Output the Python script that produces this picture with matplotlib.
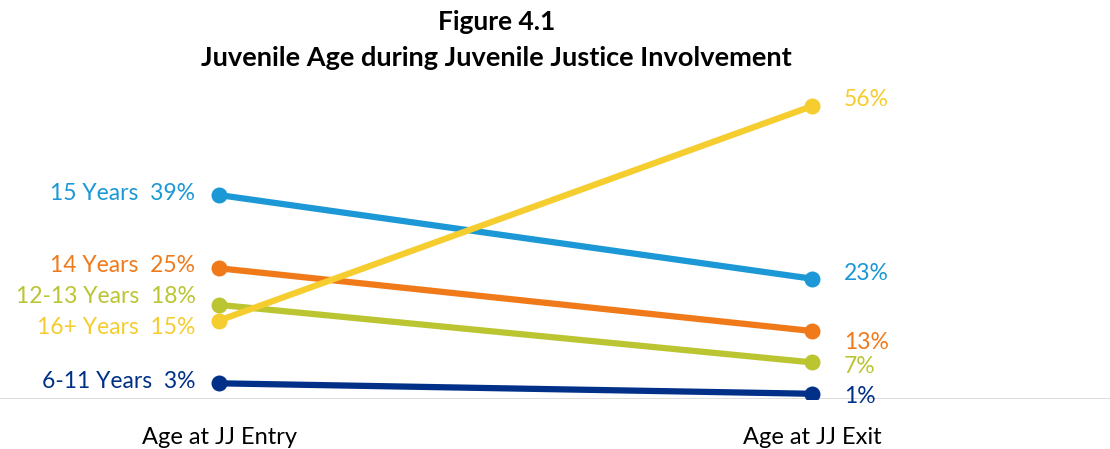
import matplotlib.pyplot as plt

plt.rcParams['font.family'] = ['Lato', 'DejaVu Sans']

# data
stages = ["Age at JJ Entry", "Age at JJ Exit"]
groups = ["6-11 Years", "12-13 Years", "14 Years", "15 Years", "16+ Years"]
entry = [3, 18, 25, 39, 15]
exit_ = [1, 7, 13, 23, 56]
colors = ["#003087", "#BBC532", "#F07A1A", "#1B98D5", "#F5CD2F"]

# label nudges in points (entry, exit) so overlapping labels stay readable
left_dy = [1, 6, 2, 1, -5]
right_dy = [-2, -3, -8, 4, 5]

fig = plt.figure(figsize=(11.1, 4.49), dpi=100)
ax = fig.add_axes([0, 50 / 449, 1, 319 / 449])
ax.set_xlim(-219 / 593, 1 + 298 / 593)
ax.set_ylim(0, 319 / 5.23)
ax.axis("off")
ax.axhline(0, color="#D9D9D9", lw=2, zorder=0)

for i, g in enumerate(groups):
    c = colors[i]
    ax.plot([0, 1], [entry[i], exit_[i]], color=c, lw=4.5, marker="o",
            markersize=10.5, solid_capstyle="butt", zorder=2 + i)
    ax.annotate(f"{g}  {entry[i]}%", (0, entry[i]), xytext=(-17, left_dy[i]),
                textcoords="offset points", ha="right", va="center",
                color=c, fontsize=16.5)
    ax.annotate(f"{exit_[i]}%", (1, exit_[i]), xytext=(23, right_dy[i]),
                textcoords="offset points", ha="left", va="center",
                color=c, fontsize=16.5)

for k, s in enumerate(stages):
    ax.annotate(s, (k, 0), xytext=(0, -28), textcoords="offset points",
                ha="center", va="center", fontsize=17, color="black")

fig.text(0.447, 0.952, "Figure 4.1", ha="center", va="center",
         fontsize=19, fontweight="bold")
fig.text(0.447, 0.87, "Juvenile Age during Juvenile Justice Involvement",
         ha="center", va="center", fontsize=19.5, fontweight="bold")

fig.savefig("out.png", dpi=100)
